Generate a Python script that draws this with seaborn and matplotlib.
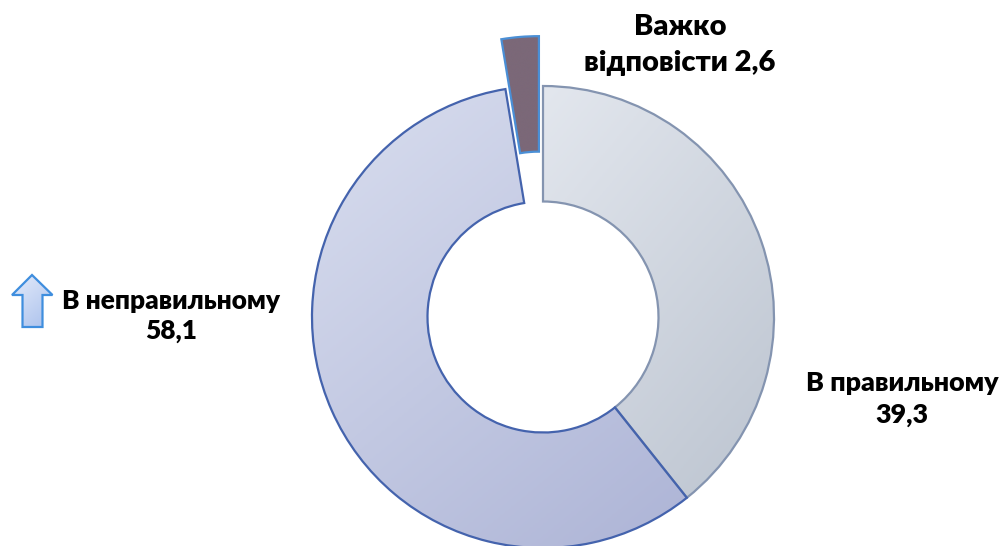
import numpy as np
import seaborn as sns
from matplotlib import pyplot as plt
from matplotlib.colors import LinearSegmentedColormap
from matplotlib.patches import Polygon

categories = ['В правильному', 'В неправильному', 'Важко\nвідповісти']
values = [39.3, 58.1, 2.6]
label_texts = ['В правильному\n39,3', 'В неправильному\n58,1', 'Важко\nвідповісти 2,6']

W, H = 1005, 546
CX, CY, R = 543, 317, 231


def px(x, y):
    # picture pixels to pie data units
    return (x - CX) / R, (CY - y) / R


def fill_gradient(ax, patch, light, dark):
    # diagonal gradient clipped to the patch
    x0, y0, x1, y1 = patch.get_window_extent().transformed(ax.transData.inverted()).extents
    xx, yy = np.meshgrid(np.linspace(0, 1, 200), np.linspace(0, 1, 200))
    grad = 0.4 * xx + 0.6 * yy
    cmap = LinearSegmentedColormap.from_list('g', [light, dark])
    im = ax.imshow(grad, extent=(x0, x1, y0, y1), origin='upper', cmap=cmap, vmin=0, vmax=1,
                   aspect='auto', zorder=1, interpolation='bilinear')
    im.set_clip_path(patch)


sns.set_theme(style='white')
plt.rcParams['font.family'] = ['Lato', 'Open Sans', 'DejaVu Sans']

fig = plt.figure(figsize=(W / 100, H / 100), dpi=100)
ax = fig.add_axes([0, 0, 1, 1])

wedges, _ = ax.pie(values, startangle=90, counterclock=False, explode=[0, 0, 50 / R],
                   radius=1, wedgeprops={'width': 0.5, 'linewidth': 1.6})

xlim = (-CX / R, (W - CX) / R)
ylim = (-(H - CY) / R, CY / R)
ax.set_xlim(xlim)
ax.set_ylim(ylim)
ax.set_aspect('equal')
ax.axis('off')
fig.canvas.draw()

fills = [('#e3e7ee', '#bcc4d0'), ('#d9deef', '#adb4d6'), ('#7b6878', '#7b6878')]
edges = ['#8494b0', '#4463ad', '#4a8fd6']
for wedge, (light, dark), edge in zip(wedges, fills, edges):
    wedge.set_facecolor('none')
    wedge.set_edgecolor(edge)
    wedge.set_zorder(2)
    fill_gradient(ax, wedge, light, dark)

ax.set_xlim(xlim)
ax.set_ylim(ylim)

label_pos = [(902, 399), (171, 316), (680, 45)]
label_spacing = [1.43, 1.32, 1.5]
label_size = [19.4, 18.9, 21]
for txt, (x, y), spacing, size in zip(label_texts, label_pos, label_spacing, label_size):
    tx, ty = px(x, y)
    ax.text(tx, ty, txt, ha='center', va='center', fontsize=size, fontweight='heavy',
            color='black', linespacing=spacing)

# small up arrow next to the wrong answers label
arrow_px = [(32, 275), (52.5, 295), (42.5, 295), (42.5, 327), (22.5, 327), (22.5, 295), (12, 295)]
arrow = Polygon([px(x, y) for x, y in arrow_px], closed=True, facecolor='none',
                edgecolor='#3f8ede', linewidth=1.6, zorder=2)
ax.add_patch(arrow)
fig.canvas.draw()
fill_gradient(ax, arrow, '#e4ebfa', '#a9c0ec')
ax.set_xlim(xlim)
ax.set_ylim(ylim)

fig.savefig('out.png', dpi=100, facecolor='white')
